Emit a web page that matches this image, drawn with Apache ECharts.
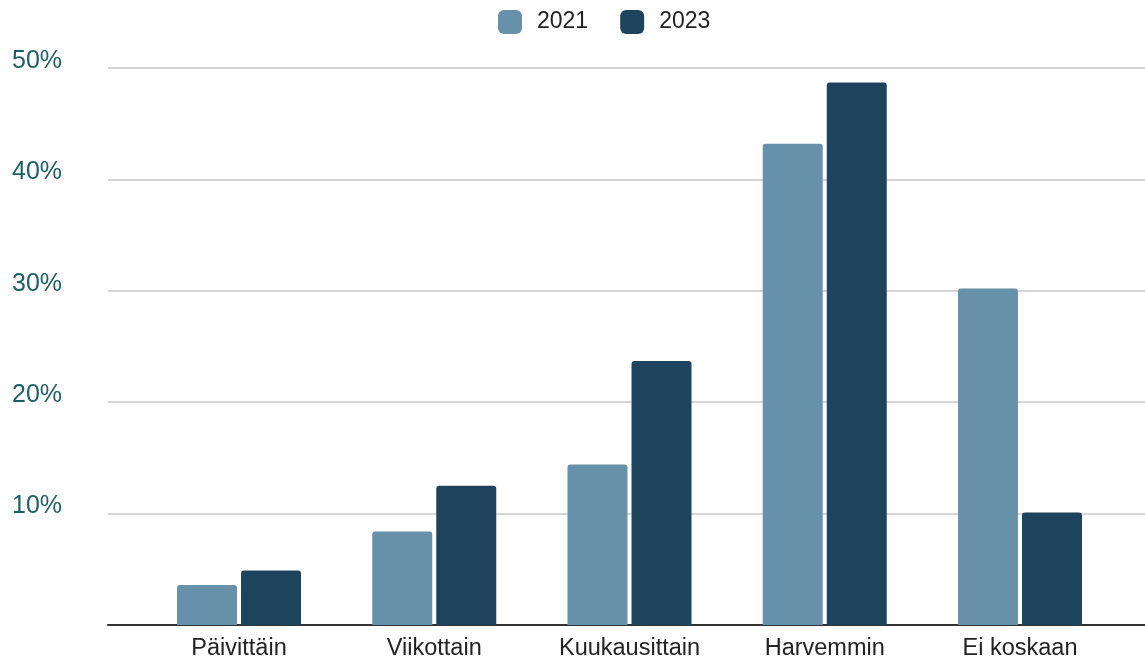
<!DOCTYPE html>
<html>
<head>
<meta charset="utf-8">
<script src="https://cdn.jsdelivr.net/npm/echarts@6/dist/echarts.min.js"></script>
<style>html,body{margin:0;padding:0;background:#fff}#c{width:1145px;height:657px}</style>
</head>
<body>
<div id="c"></div>
<script>
var categories = ['Päivittäin', 'Viikottain', 'Kuukausittain', 'Harvemmin', 'Ei koskaan'];
var seriesNames = ['2021', '2023'];
var values2021 = [3.6, 8.4, 14.4, 43.2, 30.2];
var values2023 = [4.9, 12.5, 23.7, 48.7, 10.1];
var yTicks = [0, 10, 20, 30, 40, 50];
var colors = ['#6791ab', '#1e435d'];

var chart = echarts.init(document.getElementById('c'));
var font = '"Liberation Sans", Arial, sans-serif';
chart.setOption({
  animation: false,
  textStyle: { fontFamily: font },
  legend: {
    top: 5, left: 493,
    itemWidth: 24, itemHeight: 24, itemGap: 32,
    textStyle: { fontSize: 23, color: '#222', fontFamily: font, padding: [0, 0, 0, 10] },
    data: seriesNames.map(function (n, i) { return { name: n, itemStyle: { color: colors[i], borderRadius: 2 } }; })
  },
  grid: [
    { left: 141.4, right: 27.4, top: 68, bottom: 32, containLabel: false, outerBoundsMode: 'none' },
    { left: 108, right: 0, top: 68, bottom: 32, containLabel: false, outerBoundsMode: 'none' }
  ],
  xAxis: [
    {
      type: 'category', gridIndex: 0, data: categories,
      axisLine: { show: false }, axisTick: { show: false },
      axisLabel: { fontSize: 23.5, color: '#222', margin: 12, fontFamily: font }
    },
    {
      type: 'value', gridIndex: 1, min: 0, max: 1,
      axisLine: { show: true, lineStyle: { color: '#333', width: 2 } },
      axisTick: { show: false }, axisLabel: { show: false }, splitLine: { show: false }
    }
  ],
  yAxis: [
    { type: 'value', gridIndex: 0, min: 0, max: 50, interval: 10, show: false },
    {
      type: 'value', gridIndex: 1, min: yTicks[0], max: yTicks[yTicks.length - 1], interval: 10,
      axisLine: { show: false }, axisTick: { show: false },
      splitLine: { show: true, lineStyle: { color: '#d6d6d6', width: 2 } },
      axisLabel: {
        fontSize: 25, color: '#1c5f66', align: 'left', margin: 96, fontFamily: font,
        verticalAlign: 'bottom', lineHeight: 14,
        formatter: function (v) { return v === 0 ? '' : v + '%'; }
      }
    }
  ],
  series: [
    { name: seriesNames[0], type: 'bar', xAxisIndex: 0, yAxisIndex: 0, data: values2021,
      barWidth: 60, barGap: '6.7%', itemStyle: { color: colors[0], borderRadius: [3, 3, 0, 0] } },
    { name: seriesNames[1], type: 'bar', xAxisIndex: 0, yAxisIndex: 0, data: values2023,
      barWidth: 60, itemStyle: { color: colors[1], borderRadius: [3, 3, 0, 0] } }
  ]
});
</script>
</body>
</html>
